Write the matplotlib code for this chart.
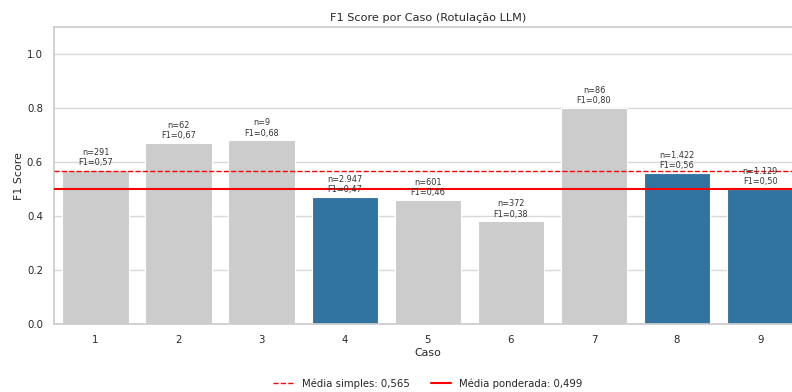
import numpy as np
import matplotlib
matplotlib.use("Agg")
import matplotlib.pyplot as plt
import seaborn as sns

casos = ["1", "2", "3", "4", "5", "6", "7", "8", "9"]
f1 = [0.57, 0.67, 0.68, 0.47, 0.46, 0.38, 0.80, 0.56, 0.50]
n_amostras = [291, 62, 9, 2947, 601, 372, 86, 1422, 1129]
media_simples = 0.565
media_ponderada = 0.499


def fmt_br(v, casas=2):
    return f"{v:.{casas}f}".replace(".", ",")


def fmt_n(v):
    return f"{v:,}".replace(",", ".")


sns.set_theme(style="whitegrid")
plt.rcParams["axes.edgecolor"] = "#cccccc"
plt.rcParams["grid.color"] = "#d9d9d9"

# casos grandes (n > 1000) em azul, o resto em cinza
cores = ["#3274a1" if n > 1000 else "#cccccc" for n in n_amostras]

fig = plt.figure(figsize=(7.92, 3.92), dpi=100)
ax = fig.add_axes([0.0682, 0.1735, 0.944, 0.7575])

x = np.arange(len(casos))
ax.bar(x, f1, width=0.8, color=cores, edgecolor="white", linewidth=0.8, zorder=2)
ax.set_xlim(-0.5, len(casos) - 0.5)
ax.set_xticks(x)
ax.set_xticklabels(casos)
ax.xaxis.grid(False)

for xi, v, n in zip(x, f1, n_amostras):
    ax.text(xi, v + 0.01, f"n={fmt_n(n)}\nF1={fmt_br(v)}",
            ha="center", va="bottom", fontsize=5.9, color="#333333", zorder=4)

ax.axhline(media_simples, color="red", linestyle="--", linewidth=1.0,
           label=f"Média simples: {fmt_br(media_simples, 3)}", zorder=3)
ax.axhline(media_ponderada, color="red", linestyle="-", linewidth=1.5,
           label=f"Média ponderada: {fmt_br(media_ponderada, 3)}", zorder=3)

ax.set_ylim(0, 1.1)
ax.set_yticks([0.0, 0.2, 0.4, 0.6, 0.8, 1.0])
ax.tick_params(labelsize=7.3, pad=2)
ax.set_title("F1 Score por Caso (Rotulação LLM)", fontsize=8.1, pad=4)
ax.set_xlabel("Caso", fontsize=7.9, labelpad=2)
ax.set_ylabel("F1 Score", fontsize=7.9, labelpad=2)

ax.legend(loc="center", bbox_to_anchor=(0.5, -0.2), ncol=2,
          frameon=False, fontsize=7.3, columnspacing=2.1)

fig.savefig("out.png", dpi=100)
